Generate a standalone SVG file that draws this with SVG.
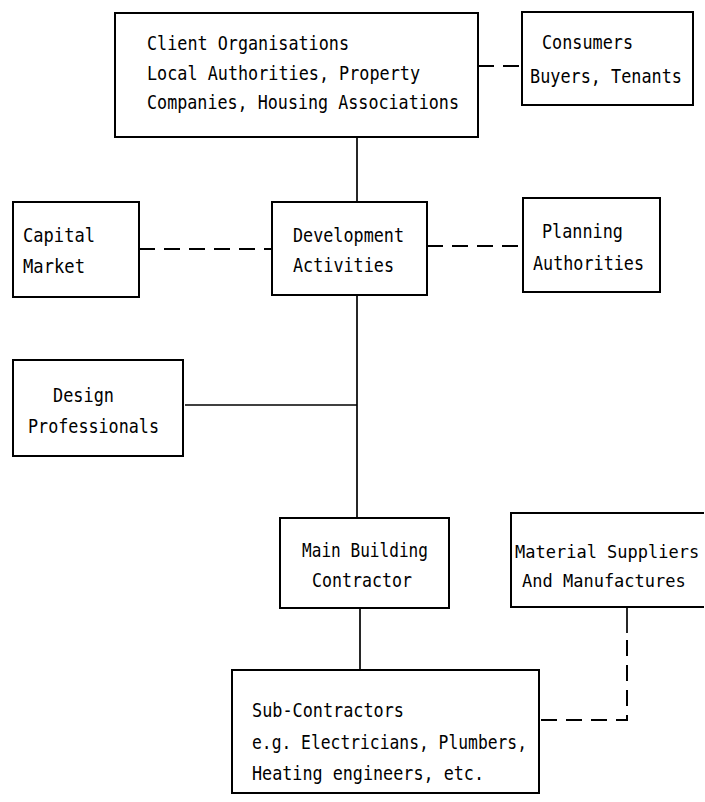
<svg xmlns="http://www.w3.org/2000/svg" width="705" height="802" viewBox="0 0 705 802">
<style>
.box{fill:none;stroke:#000;stroke-width:2}
.t{font-family:"DejaVu Sans Mono","Liberation Mono",monospace;font-size:19.5px;fill:#000}
.s{font-size:17px}
.ln{fill:none;stroke:#000;stroke-width:1.7}
.dash{fill:none;stroke:#000;stroke-width:2;stroke-dasharray:16 9}
</style>
<rect width="705" height="802" fill="#fff"/>
<g id="connectors">
<line class="dash" x1="478" y1="66" x2="522" y2="66" stroke-dasharray="8 6"/>
<line class="ln" x1="357" y1="137" x2="357" y2="202"/>
<line class="dash" x1="139" y1="249" x2="272" y2="249"/>
<line class="dash" x1="427" y1="246" x2="523" y2="246"/>
<line class="ln" x1="357" y1="295" x2="357" y2="518"/>
<line class="ln" x1="185" y1="405" x2="357" y2="405"/>
<line class="ln" x1="360" y1="608" x2="360" y2="670"/>
<line class="ln" x1="627" y1="607" x2="627" y2="633"/>
<polyline class="dash" points="627,640 627,720 539,720"/>
</g>
<g id="client">
<rect class="box" x="115" y="13" width="363" height="124"/>
<text class="t" x="147" y="50" textLength="202" lengthAdjust="spacingAndGlyphs">Client Organisations</text>
<text class="t" x="147" y="80" textLength="273" lengthAdjust="spacingAndGlyphs">Local Authorities, Property</text>
<text class="t" x="147" y="109" textLength="312" lengthAdjust="spacingAndGlyphs">Companies, Housing Associations</text>
</g>
<g id="consumers">
<rect class="box" x="522" y="12" width="171" height="93"/>
<text class="t" x="542" y="49" textLength="91" lengthAdjust="spacingAndGlyphs">Consumers</text>
<text class="t" x="530" y="83" textLength="152" lengthAdjust="spacingAndGlyphs">Buyers, Tenants</text>
</g>
<g id="capital">
<rect class="box" x="13" y="202" width="126" height="95"/>
<text class="t" x="23" y="242" textLength="72" lengthAdjust="spacingAndGlyphs">Capital</text>
<text class="t" x="23" y="273" textLength="62" lengthAdjust="spacingAndGlyphs">Market</text>
</g>
<g id="development">
<rect class="box" x="272" y="202" width="155" height="93"/>
<text class="t" x="293" y="242" textLength="111" lengthAdjust="spacingAndGlyphs">Development</text>
<text class="t" x="293" y="272" textLength="101" lengthAdjust="spacingAndGlyphs">Activities</text>
</g>
<g id="planning">
<rect class="box" x="523" y="198" width="137" height="94"/>
<text class="t" x="542" y="238" textLength="81" lengthAdjust="spacingAndGlyphs">Planning</text>
<text class="t" x="533" y="270" textLength="111" lengthAdjust="spacingAndGlyphs">Authorities</text>
</g>
<g id="design">
<rect class="box" x="13" y="360" width="170" height="96"/>
<text class="t" x="53" y="402" textLength="61" lengthAdjust="spacingAndGlyphs">Design</text>
<text class="t" x="28" y="433" textLength="131" lengthAdjust="spacingAndGlyphs">Professionals</text>
</g>
<g id="main-contractor">
<rect class="box" x="280" y="518" width="169" height="90"/>
<text class="t" x="302" y="557" textLength="126" lengthAdjust="spacingAndGlyphs">Main Building</text>
<text class="t" x="312" y="587" textLength="100" lengthAdjust="spacingAndGlyphs">Contractor</text>
</g>
<g id="suppliers">
<path class="box" d="M704,513 L511,513 L511,607 L704,607"/>
<text class="t s" x="515" y="558">Material Suppliers</text>
<text class="t s" x="522" y="587">And Manufactures</text>
</g>
<g id="subcontractors">
<rect class="box" x="232" y="670" width="307" height="123"/>
<text class="t" x="252" y="717" textLength="152" lengthAdjust="spacingAndGlyphs">Sub-Contractors</text>
<text class="t" x="252" y="749" textLength="275" lengthAdjust="spacingAndGlyphs">e.g. Electricians, Plumbers,</text>
<text class="t" x="252" y="780" textLength="232" lengthAdjust="spacingAndGlyphs">Heating engineers, etc.</text>
</g>
</svg>
